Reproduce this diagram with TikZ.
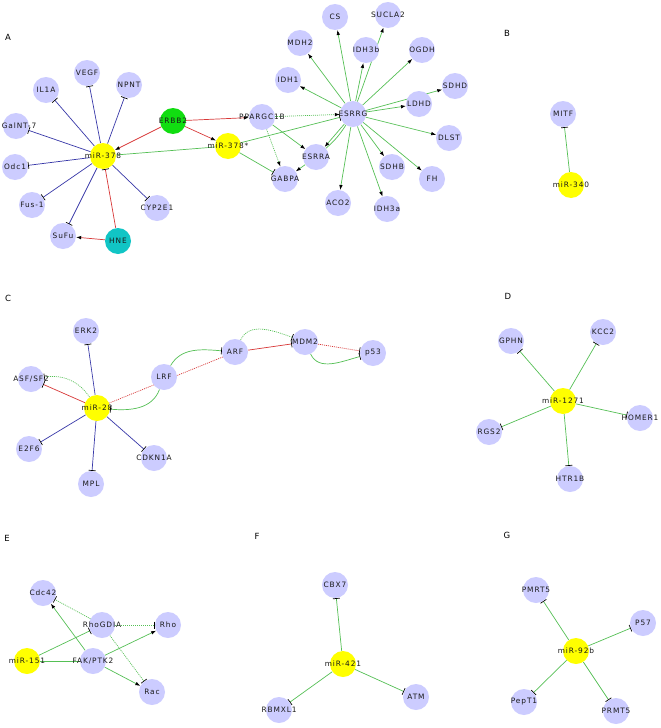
\documentclass[tikz,border=0pt]{standalone}
\usepackage{fontspec}
\newfontfamily\labfont[LetterSpace=12]{DejaVu Sans}
\newfontfamily\panfont{DejaVu Sans}
\usetikzlibrary{arrows.meta}
\pgfdeclarelayer{bg}
\pgfsetlayers{bg,main}
\definecolor{lav}{HTML}{CCCCFF}
\definecolor{mirY}{HTML}{FFFF00}
\definecolor{erbbG}{HTML}{11DD11}
\definecolor{hneT}{HTML}{11C5C5}
\definecolor{eBlue}{HTML}{3838A8}
\definecolor{eRed}{HTML}{D83838}
\definecolor{eGreen}{HTML}{55C055}
\tikzset{
  gene/.style={circle, fill=lav, minimum size=26pt, inner sep=0pt},
  mir/.style={gene, fill=mirY},
  every label/.style={font=\labfont\fontsize{7.4}{8}\selectfont, inner sep=0pt, text=black!90},
  panlab/.style={font=\panfont\fontsize{8.5}{10}\selectfont, inner sep=0pt},
  edge/.style={line width=0.7pt},
  be/.style={edge, draw=eBlue},
  re/.style={edge, draw=eRed},
  ge/.style={edge, draw=eGreen},
  dots/.style={dash pattern=on 1pt off 1pt},
  act/.style={-{Latex[length=5pt,width=3.6pt,color=black]}},
  inh/.style={-{Bar[width=7pt,line width=0.7pt,color=black]}},
}
\begin{document}
\begin{tikzpicture}[x=1pt,y=-1pt]
\useasboundingbox (0,0) rectangle (661,728);

% panel letters
\node[panlab] (lA) at (8,37) {A};
\node[panlab] (lB) at (507,33) {B};
\node[panlab] (lC) at (8,298) {C};
\node[panlab] (lD) at (508,296) {D};
\node[panlab] (lE) at (7,538) {E};
\node[panlab] (lF) at (257,536) {F};
\node[panlab] (lG) at (507,535) {G};

% ---------- Panel A ----------
\node[mir, label={center:miR-378}] (m378) at (103,156) {};
\node[mir, label={center:miR-378*}] (m378s) at (228,146) {};
\node[gene, fill=erbbG, label={center:ERBB2}] (erbb2) at (173,121) {};
\node[gene, fill=hneT, label={center:HNE}] (hne) at (118,241) {};
\node[gene, label={center:VEGF}] (vegf) at (87,73) {};
\node[gene, label={center:IL1A}] (il1a) at (46,90) {};
\node[gene, label={center:NPNT}] (npnt) at (129,85) {};
\node[gene, label={[xshift=3pt]center:GalNT-7}] (galnt) at (16,126) {};
\node[gene, label={center:Odc1}] (odc1) at (15,167) {};
\node[gene, label={center:Fus-1}] (fus1) at (32,205) {};
\node[gene, label={center:SuFu}] (sufu) at (63,236) {};
\node[gene, label={center:CYP2E1}] (cyp) at (157,208) {};
\node[gene, label={center:PPARGC1B}] (ppar) at (262,117) {};
\node[gene, label={center:GABPA}] (gabpa) at (285,179) {};
\node[gene, label={center:ESRRA}] (esrra) at (316,157) {};
\node[gene, label={center:ESRRG}] (esrrg) at (353,114) {};
\node[gene, label={center:CS}] (cs) at (335,17) {};
\node[gene, label={center:SUCLA2}] (sucla2) at (388,15) {};
\node[gene, label={center:MDH2}] (mdh2) at (300,43) {};
\node[gene, label={center:IDH3b}] (idh3b) at (366,50) {};
\node[gene, label={center:OGDH}] (ogdh) at (422,50) {};
\node[gene, label={center:SDHD}] (sdhd) at (455,86) {};
\node[gene, label={center:IDH1}] (idh1) at (288,80) {};
\node[gene, label={center:LDHD}] (ldhd) at (419,104) {};
\node[gene, label={center:DLST}] (dlst) at (449,138) {};
\node[gene, label={center:SDHB}] (sdhb) at (392,167) {};
\node[gene, label={center:FH}] (fh) at (432,179) {};
\node[gene, label={center:ACO2}] (aco2) at (338,203) {};
\node[gene, label={center:IDH3a}] (idh3a) at (387,209) {};

% ---------- Panel B ----------
\node[gene, label={center:MITF}] (mitf) at (563,114) {};
\node[mir, label={center:miR-340}] (m340) at (571,185) {};

% ---------- Panel C ----------
\node[mir, label={center:miR-28}] (m28) at (97,408) {};
\node[gene, label={center:ERK2}] (erk2) at (86,331) {};
\node[gene, label={center:ASF/SF2}] (asf) at (31,379) {};
\node[gene, label={center:LRF}] (lrf) at (164,377) {};
\node[gene, label={center:E2F6}] (e2f6) at (29,449) {};
\node[gene, label={center:CDKN1A}] (cdkn) at (154,458) {};
\node[gene, label={center:MPL}] (mpl) at (91,484) {};
\node[gene, label={center:ARF}] (arf) at (235,352) {};
\node[gene, label={center:MDM2}] (mdm2) at (305,342) {};
\node[gene, label={center:p53}] (p53) at (373,353) {};

% ---------- Panel D ----------
\node[mir, label={center:miR-1271}] (m1271) at (563,401) {};
\node[gene, label={center:GPHN}] (gphn) at (511,341) {};
\node[gene, label={center:KCC2}] (kcc2) at (603,332) {};
\node[gene, label={center:HOMER1}] (homer) at (640,418) {};
\node[gene, label={center:RGS2}] (rgs2) at (489,432) {};
\node[gene, label={center:HTR1B}] (htr1b) at (570,479) {};

% ---------- Panel E ----------
\node[mir, label={center:miR-151}] (m151) at (27,661) {};
\node[gene, label={center:Cdc42}] (cdc42) at (43,593) {};
\node[gene, label={center:RhoGDIA}] (rgdi) at (102,625) {};
\node[gene, label={center:Rho}] (rho) at (168,625) {};
\node[gene, label={center:FAK/PTK2}] (fak) at (93,661) {};
\node[gene, label={center:Rac}] (rac) at (152,692) {};

% ---------- Panel F ----------
\node[mir, label={center:miR-421}] (m421) at (343,664) {};
\node[gene, label={center:CBX7}] (cbx7) at (335,585) {};
\node[gene, label={center:ATM}] (atm) at (416,697) {};
\node[gene, label={center:RBMXL1}] (rbmx) at (279,710) {};

% ---------- Panel G ----------
\node[mir, label={center:miR-92b}] (m92b) at (576,651) {};
\node[gene, label={center:PMRT5}] (pmrt5) at (536,590) {};
\node[gene, label={center:P57}] (p57) at (643,623) {};
\node[gene, label={center:PepT1}] (pept1) at (524,702) {};
\node[gene, label={center:PRMT5}] (prmt5) at (616,711) {};

\begin{pgfonlayer}{bg}
\fill[white] (0,0) rectangle (661,728);
% Panel A edges
\foreach \t in {vegf,il1a,npnt,galnt,odc1,fus1,sufu,cyp}
  \draw[be, inh] (m378) -- (\t);
\draw[re, act] (erbb2) -- (m378);
\draw[re, act] (erbb2) -- (m378s);
\draw[re, act] (erbb2) -- (ppar);
\draw[re, inh] (hne) -- (m378);
\draw[re, act] (hne) -- (sufu);
\draw[ge] (m378) -- (m378s);
\draw[ge, inh] (m378s) -- (esrrg);
\draw[ge, inh] (m378s) -- (gabpa);
\draw[ge, dots, act] (ppar) -- (esrrg);
\draw[ge, dots, act] (ppar) -- (gabpa);
\draw[ge, act] (ppar) -- (esrra);
\draw[ge, act] (esrra) -- (gabpa);
\draw[ge, act] (esrrg) -- (esrra);
\draw[ge] (esrra) to[bend right=8] (esrrg);
\foreach \t in {cs,sucla2,mdh2,idh3b,ogdh,sdhd,idh1,ldhd,dlst,sdhb,fh,aco2,idh3a}
  \draw[ge, act] (esrrg) -- (\t);
% Panel B
\draw[ge, inh] (m340) -- (mitf);
% Panel C
\foreach \t in {erk2,e2f6,mpl,cdkn}
  \draw[be, inh] (m28) -- (\t);
\draw[re, inh] (m28) -- (asf);
\draw[ge, dots, inh] (m28) to[bend right=32] (asf);
\draw[re, dots] (arf) -- (m28);
\draw[ge, inh] (lrf) to[out=-110, in=-5] (m28);
\draw[ge, inh] (lrf) to[out=60, in=175] (arf);
\draw[re, inh] (arf) -- (mdm2);
\draw[ge, dots, inh] (arf) to[out=65, in=160] (mdm2);
\draw[re, dots, inh] (mdm2) -- (p53);
\draw[ge, inh] (mdm2) to[out=-65, in=195] (p53);
% Panel D
\foreach \t in {gphn,kcc2,homer,rgs2,htr1b}
  \draw[ge, inh] (m1271) -- (\t);
% Panel E
\draw[ge] (m151) -- (fak);
\draw[ge, inh] (m151) -- (rgdi);
\draw[ge, act] (fak) -- (cdc42);
\draw[ge, act] (fak) -- (rho);
\draw[ge, act] (fak) -- (rac);
\draw[ge, dots, inh] (rgdi) -- (cdc42);
\draw[ge, dots, inh] (rgdi) -- (rho);
\draw[ge, dots, inh] (rgdi) -- (rac);
% Panel F
\foreach \t in {cbx7,atm,rbmx}
  \draw[ge, inh] (m421) -- (\t);
% Panel G
\foreach \t in {pmrt5,p57,pept1,prmt5}
  \draw[ge, inh] (m92b) -- (\t);
\end{pgfonlayer}
\end{tikzpicture}
\end{document}
